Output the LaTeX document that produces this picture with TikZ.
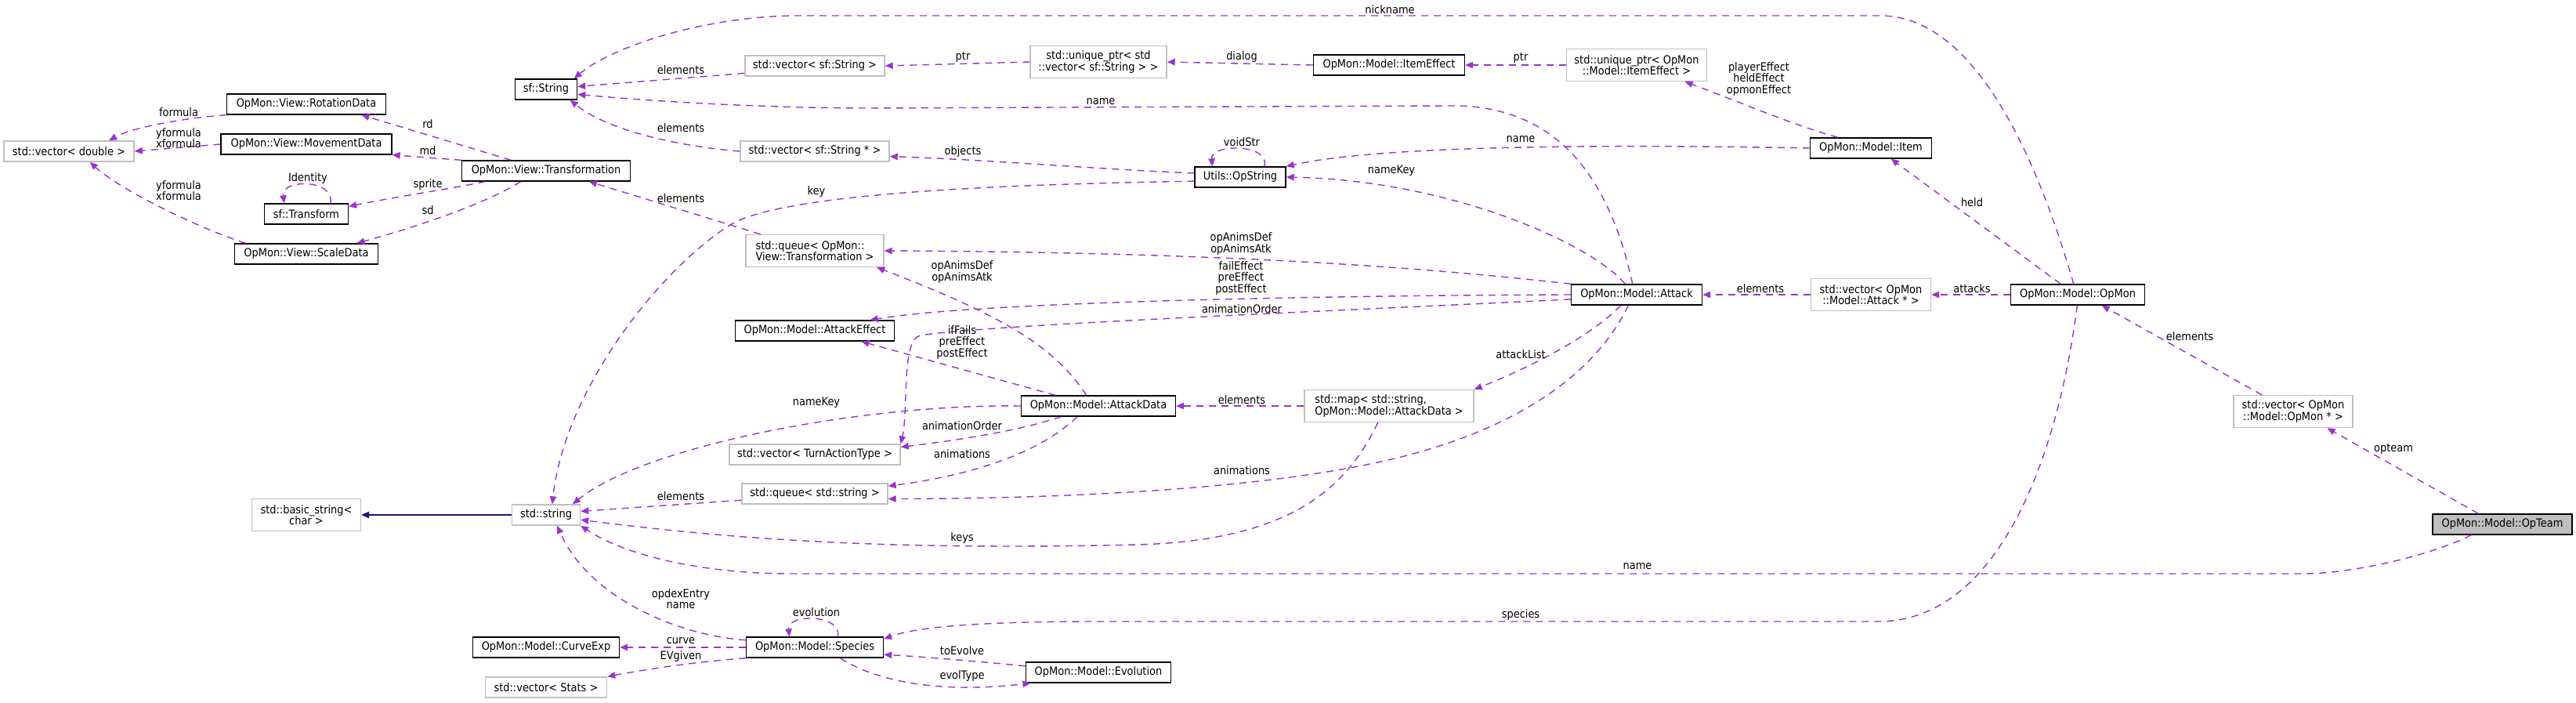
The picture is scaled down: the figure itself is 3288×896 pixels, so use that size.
\documentclass[tikz,border=0pt]{standalone}
\usepackage{fontspec}
\setmainfont{DejaVu Sans}[FakeStretch=0.9]
\usetikzlibrary{arrows.meta}
\definecolor{edgePurple}{HTML}{9A32CD}
\definecolor{edgeNavy}{HTML}{191970}
\definecolor{extGrey}{HTML}{BFBFBF}
\tikzset{
  cls/.style={draw=black, line width=0.7pt, fill=white, inner xsep=2pt, inner ysep=1pt,
              minimum height=13pt, align=center, font=\fontsize{7.2}{7.3}\selectfont},
  ext/.style={cls, draw=extGrey},
  focus/.style={cls, fill=extGrey},
  tall/.style={minimum height=20.5pt},
  wd/.style={minimum width=#1*0.5pt},
  lbl/.style={inner sep=0pt, align=center, font=\fontsize{7.2}{7.3}\selectfont},
  mem/.style={-{Triangle[length=5pt,width=4.2pt]}, draw=edgePurple, line width=0.7pt,
              dash pattern=on 4.5pt off 3.5pt},
  inh/.style={-{Triangle[length=5pt,width=4.2pt]}, draw=edgeNavy, line width=0.7pt},
}
\begin{document}
\begin{tikzpicture}[x=0.5pt, y=-0.5pt]
\useasboundingbox (0,0) rectangle (3288,896);

\node[ext, wd=166] (vdbl) at (88,193) {std::vector< double >};
\node[cls, wd=203] (rotd) at (391,133) {OpMon::View::RotationData};
\node[cls, wd=218] (movd) at (391,184) {OpMon::View::MovementData};
\node[cls, wd=107] (sftr) at (391,273) {sf::Transform};
\node[cls, wd=183] (scld) at (391,324) {OpMon::View::ScaleData};
\node[ext, wd=139, tall] (bstr) at (391,657) {std::basic\_string<\\char >};
\node[cls, wd=215] (trsf) at (697,218) {OpMon::View::Transformation};
\node[cls, wd=79] (sfstr) at (697,114) {sf::String};
\node[ext, wd=87] (stdstr) at (697,657) {std::string};
\node[cls, wd=187] (crv) at (697,826) {OpMon::Model::CurveExp};
\node[ext, wd=155] (vsts) at (697,877) {std::vector< Stats >};
\node[ext, wd=178] (vsfs) at (1040,84) {std::vector< sf::String >};
\node[ext, wd=190] (vsfp) at (1040,193) {std::vector< sf::String * >};
\node[ext, wd=176, tall, align=left] (qtrf) at (1040,320) {std::queue< OpMon::\\View::Transformation >};
\node[cls, wd=203] (atkeff) at (1040,422) {OpMon::Model::AttackEffect};
\node[ext, wd=218] (vtat) at (1040,580) {std::vector< TurnActionType >};
\node[ext, wd=186] (qstr) at (1040,630) {std::queue< std::string >};
\node[cls, wd=175] (spc) at (1040,826) {OpMon::Model::Species};
\node[ext, wd=174, tall] (uvec) at (1402,79) {std::unique\_ptr< std\\::vector< sf::String > >};
\node[cls, wd=197] (atkd) at (1402,518) {OpMon::Model::AttackData};
\node[cls, wd=185] (evo) at (1402,858) {OpMon::Model::Evolution};
\node[cls, wd=116] (opstr) at (1583,226) {Utils::OpString};
\node[cls, wd=193] (itmeff) at (1773,83) {OpMon::Model::ItemEffect};
\node[ext, wd=216, tall, align=left] (amap) at (1773,518) {std::map< std::string,\\ OpMon::Model::AttackData >};
\node[ext, wd=179, tall] (uieff) at (2089,83) {std::unique\_ptr< OpMon\\::Model::ItemEffect >};
\node[cls, wd=167] (atk) at (2089,376) {OpMon::Model::Attack};
\node[cls, wd=155] (item) at (2388,189) {OpMon::Model::Item};
\node[ext, wd=153, tall] (vatk) at (2388,376) {std::vector< OpMon\\::Model::Attack * >};
\node[cls, wd=171] (opmon) at (2652,376) {OpMon::Model::OpMon};
\node[ext, wd=152, tall] (vopm) at (2927,525) {std::vector< OpMon\\::Model::OpMon * >};
\node[focus, wd=178] (opteam) at (3194,669) {OpMon::Model::OpTeam};

% view classes
\draw[mem] (rotd.south west) .. controls (240,150) and (170,162) .. (vdbl.15);
\draw[mem] (movd.west) -- (vdbl.east);
\draw[mem] (scld.170) .. controls (250,290) and (150,240) .. (vdbl.-27);
\draw[mem] (trsf.163) -- (rotd.-11);
\draw[mem] (trsf.north west) -- (movd.south east);
\draw[mem] (trsf.190) .. controls (580,240) and (500,252) .. (sftr.10);
\draw[mem] (trsf.203) .. controls (620,260) and (530,290) .. (scld.12);
\draw[mem] (sftr.24) .. controls (428,228) and (358,228) .. (sftr.154);
\node[lbl] (lbFormula) at (228,143) {formula};
\node[lbl] (lbMovXY) at (228,176) {yformula\\xformula};
\node[lbl] (lbScaXY) at (228,243) {yformula\\xformula};
\node[lbl] (lbRd) at (546,158) {rd};
\node[lbl] (lbMd) at (546,192) {md};
\node[lbl] (lbSprite) at (546,236) {sprite};
\node[lbl] (lbSd) at (546,268) {sd};
\node[lbl] (lbIdentity) at (393,228) {Identity};

% strings and containers
\draw[mem] (vsfs.186) -- (sfstr.5);
\draw[mem] (vsfp.west) .. controls (880,188) and (780,170) .. (sfstr.-24);
\draw[mem] (qtrf.163) -- (trsf.-14);
\draw[mem] (uvec.west) -- (vsfs.east);
\draw[mem] (itmeff.west) -- (uvec.east);
\draw[mem] (uieff.west) -- (itmeff.east);
\draw[mem] (item.162) .. controls (2290,160) and (2220,130) .. (uieff.-19);
\draw[mem] (item.west) .. controls (2000,183) and (1750,188) .. (opstr.north east);
\draw[mem] (opstr.24) .. controls (1622,183) and (1545,183) .. (opstr.159);
\draw[mem] (opstr.175) .. controls (1400,216) and (1250,203) .. (vsfp.-4);
\draw[mem] (opstr.185) .. controls (1300,235) and (1000,245) .. (932,287)
  .. controls (840,345) and (720,500) .. (stdstr.60);
\node[lbl] (lbElemSfs) at (869,89) {elements};
\node[lbl] (lbElemSfp) at (869,163) {elements};
\node[lbl] (lbElemTrf) at (869,253) {elements};
\node[lbl] (lbPtr) at (1229,73) {ptr};
\node[lbl] (lbDialog) at (1585,73) {dialog};
\node[lbl] (lbPtrEff) at (1941,74) {ptr};
\node[lbl] (lbItemEff) at (2245,101) {playerEffect\\heldEffect\\opmonEffect};
\node[lbl] (lbItemName) at (1941,178) {name};
\node[lbl] (lbVoidStr) at (1585,181) {voidStr};
\node[lbl] (lbObjects) at (1229,194) {objects};
\node[lbl] (lbKey) at (1042,245) {key};

% attack
\draw[mem] (atk.111) .. controls (2055,230) and (1990,133) .. (1850,135) -- (1100,138)
  .. controls (950,137) and (820,128) .. (sfstr.-9);
\draw[mem] (atk.137) .. controls (2030,310) and (1850,230) .. (opstr.east);
\draw[mem] (atk.north west) .. controls (1850,345) and (1600,322) .. (qtrf.east);
\draw[mem] (atk.west) .. controls (1700,377) and (1250,385) .. (atkeff.11);
\draw[mem] (atk.184) .. controls (1700,397) and (1250,415) .. (1175,428)
  .. controls (1150,432) and (1160,520) .. (vtat.7);
\draw[mem] (atk.214) .. controls (2030,430) and (1950,470) .. (amap.11);
\draw[mem] (atk.232) .. controls (2040,470) and (1950,540) .. (1800,580)
  .. controls (1650,620) and (1400,636) .. (qstr.-4);
\draw[mem] (amap.west) -- (atkd.east);
\draw[mem] (amap.236) .. controls (1720,620) and (1650,690) .. (1450,695)
  .. controls (1150,702) and (950,690) .. (stdstr.-8);
\node[lbl] (lbAtkName) at (1405,130) {name};
\node[lbl] (lbAtkNameKey) at (1776,218) {nameKey};
\node[lbl] (lbAtkAnims) at (1584,311) {opAnimsDef\\opAnimsAtk};
\node[lbl] (lbAtkEff) at (1584,355) {failEffect\\preEffect\\postEffect};
\node[lbl] (lbAtkOrder) at (1585,394) {animationOrder};
\node[lbl] (lbAtkList) at (1941,452) {attackList};
\node[lbl] (lbAtkAnimations) at (1585,600) {animations};
\node[lbl] (lbMapElem) at (1585,510) {elements};
\node[lbl] (lbKeys) at (1228,687) {keys};

% attack data
\draw[mem] (atkd.166) -- (atkeff.-13);
\draw[mem] (atkd.138) .. controls (1350,450) and (1300,410) .. (qtrf.-15);
\draw[mem] (atkd.west) .. controls (1100,515) and (820,570) .. (stdstr.22);
\draw[mem] (atkd.196) .. controls (1300,550) and (1220,562) .. (vtat.5);
\draw[mem] (atkd.207) .. controls (1330,575) and (1250,605) .. (qstr.6);
\draw[mem] (qstr.185) -- (stdstr.6);
\draw[inh] (stdstr.west) -- (bstr.east);
\node[lbl] (lbDataEff) at (1228,437) {ifFails\\preEffect\\postEffect};
\node[lbl] (lbDataAnims) at (1228,347) {opAnimsDef\\opAnimsAtk};
\node[lbl] (lbDataNameKey) at (1042,514) {nameKey};
\node[lbl] (lbDataOrder) at (1228,543) {animationOrder};
\node[lbl] (lbDataAnimations) at (1228,579) {animations};
\node[lbl] (lbQstrElem) at (869,633) {elements};

% species
\draw[mem] (spc.174) .. controls (860,810) and (750,760) .. (stdstr.-44);
\draw[mem] (spc.west) -- (crv.east);
\draw[mem] (spc.south west) .. controls (880,845) and (820,855) .. (vsts.north east);
\draw[mem] (spc.25) .. controls (1075,783) and (1004,783) .. (spc.157);
\draw[mem] (evo.175) .. controls (1260,845) and (1180,838) .. (spc.-6);
\draw[mem] (spc.-23) .. controls (1120,870) and (1200,885) .. (evo.189);
\node[lbl] (lbOpdex) at (869,764) {opdexEntry\\name};
\node[lbl] (lbCurve) at (869,818) {curve};
\node[lbl] (lbEVgiven) at (869,838) {EVgiven};
\node[lbl] (lbEvolution) at (1042,781) {evolution};
\node[lbl] (lbToEvolve) at (1228,830) {toEvolve};
\node[lbl] (lbEvolType) at (1228,863) {evolType};

% opmon and team
\draw[mem] (opmon.111) .. controls (2600,200) and (2520,20) .. (2400,20) -- (1020,20)
  .. controls (900,20) and (780,60) .. (sfstr.21);
\draw[mem] (opmon.148) -- (item.-28);
\draw[mem] (opmon.west) -- (vatk.east);
\draw[mem] (vatk.west) -- (atk.east);
\draw[mem] (opmon.267) .. controls (2630,560) and (2560,790) .. (2400,793) -- (1400,793)
  .. controls (1250,793) and (1170,800) .. (spc.7);
\draw[mem] (vopm.152) -- (opmon.-24);
\draw[mem] (opteam.156) -- (vopm.-26);
\draw[mem] (opteam.199) .. controls (3100,710) and (3000,732) .. (2940,732) -- (1010,732)
  .. controls (900,732) and (800,710) .. (stdstr.south east);
\node[lbl] (lbNickname) at (1774,12) {nickname};
\node[lbl] (lbHeld) at (2517,258) {held};
\node[lbl] (lbAttacks) at (2517,368) {attacks};
\node[lbl] (lbVatkElem) at (2247,368) {elements};
\node[lbl] (lbSpecies) at (1941,785) {species};
\node[lbl] (lbVopmElem) at (2795,429) {elements};
\node[lbl] (lbOpteam) at (3055,573) {opteam};
\node[lbl] (lbTeamName) at (2090,723) {name};
\end{tikzpicture}
\end{document}
